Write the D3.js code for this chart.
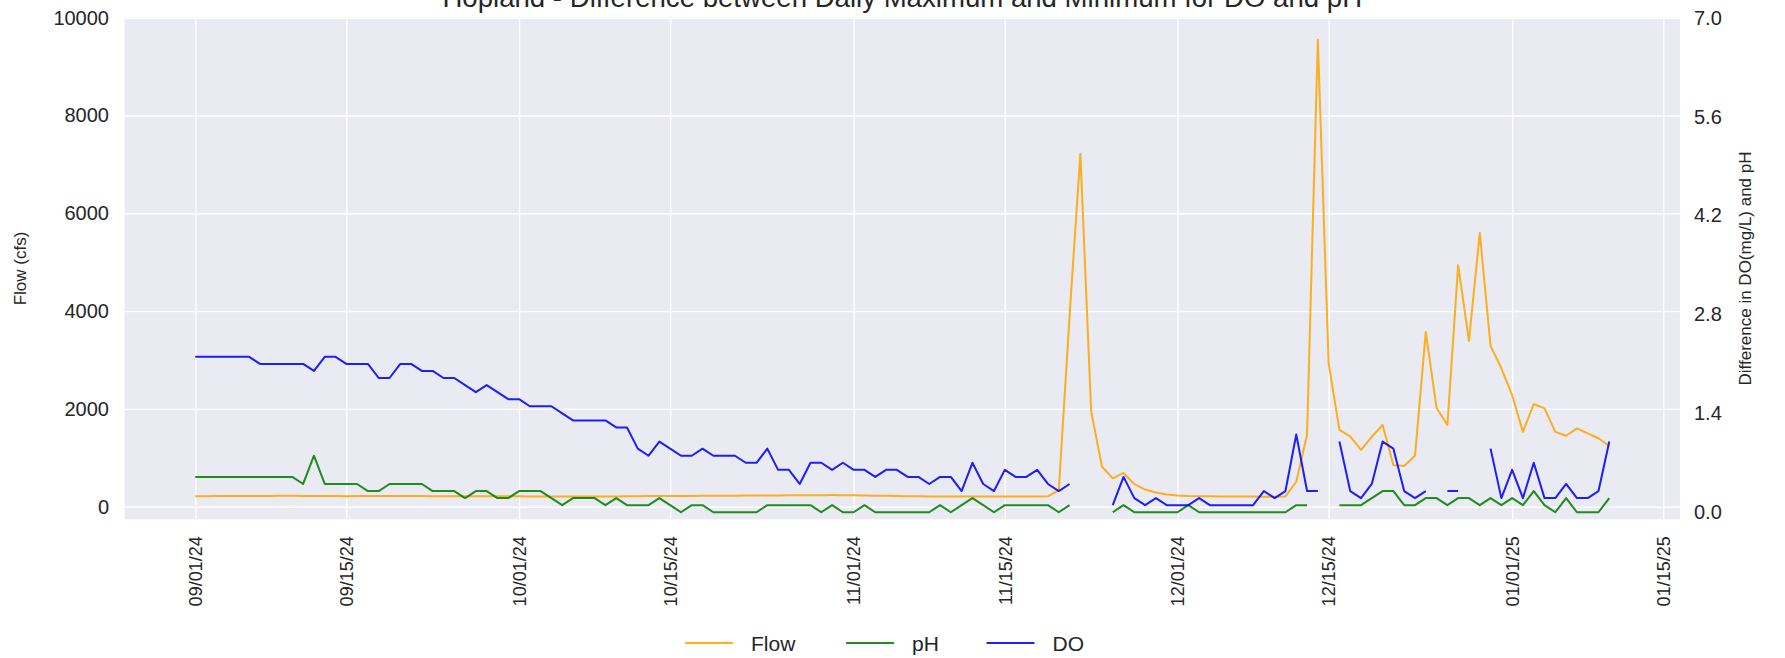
<!DOCTYPE html>
<html>
<head>
<meta charset="utf-8">
<script src="https://cdn.jsdelivr.net/npm/d3@7"></script>
<style>
  body { margin: 0; background: #ffffff; }
  text { font-family: "Liberation Sans", Arial, sans-serif; fill: #262626; }
</style>
</head>
<body>
<script>
let width = 1785;
let height = 658;
let plotLeft = 124.5;
let plotRight = 1680;
let plotTop = 17.7;
let plotBottom = 519.3;

const firstDay = '2024-09-01'

// daily flow (cfs), left axis
const flow = [215,214,216,218,217,219,220,221,222,226,221,218,217,216,215,216,217,218,219,218,
  217,216,215,214,214,213,213,212,212,211,211,210,210,210,209,209,208,208,209,210,
  212,214,216,218,219,220,221,222,224,225,226,228,229,230,231,232,233,234,236,238,
  236,233,230,226,222,218,214,212,210,209,208,208,207,207,206,206,207,208,210,212,
  340,3900,7220,1950,820,580,690,460,350,290,250,230,220,215,212,210,208,207,206,205,
  205,210,510,1470,9550,2930,1570,1440,1160,1430,1670,850,830,1040,3570,2020,1670,4940,3390,5600,
  3290,2830,2280,1530,2100,2010,1530,1450,1600,1500,1400,1240]

// daily max - min for pH, right axis
const ph = [0.5,0.5,0.5,0.5,0.5,0.5,0.5,0.5,0.5,0.5,0.4,0.8,0.4,0.4,0.4,0.4,0.3,0.3,0.4,0.4,
  0.4,0.4,0.3,0.3,0.3,0.2,0.3,0.3,0.2,0.2,0.3,0.3,0.3,0.2,0.1,0.2,0.2,0.2,0.1,0.2,
  0.1,0.1,0.1,0.2,0.1,0.0,0.1,0.1,0.0,0.0,0.0,0.0,0.0,0.1,0.1,0.1,0.1,0.1,0.0,0.1,
  0.0,0.0,0.1,0.0,0.0,0.0,0.0,0.0,0.0,0.1,0.0,0.1,0.2,0.1,0.0,0.1,0.1,0.1,0.1,0.1,
  0.0,0.1,null,null,null,0.0,0.1,0.0,0.0,0.0,0.0,0.0,0.1,0.0,0.0,0.0,0.0,0.0,0.0,0.0,
  0.0,0.0,0.1,0.1,null,null,0.1,0.1,0.1,0.2,0.3,0.3,0.1,0.1,0.2,0.2,0.1,0.2,0.2,0.1,
  0.2,0.1,0.2,0.1,0.3,0.1,0.0,0.2,0.0,0.0,0.0,0.2]

// daily max - min for DO (mg/L), right axis
const dissolvedOxygen = [2.2,2.2,2.2,2.2,2.2,2.2,2.1,2.1,2.1,2.1,2.1,2.0,2.2,2.2,2.1,2.1,2.1,1.9,1.9,2.1,
  2.1,2.0,2.0,1.9,1.9,1.8,1.7,1.8,1.7,1.6,1.6,1.5,1.5,1.5,1.4,1.3,1.3,1.3,1.3,1.2,
  1.2,0.9,0.8,1.0,0.9,0.8,0.8,0.9,0.8,0.8,0.8,0.7,0.7,0.9,0.6,0.6,0.4,0.7,0.7,0.6,
  0.7,0.6,0.6,0.5,0.6,0.6,0.5,0.5,0.4,0.5,0.5,0.3,0.7,0.4,0.3,0.6,0.5,0.5,0.6,0.4,
  0.3,0.4,null,null,null,0.1,0.5,0.2,0.1,0.2,0.1,0.1,0.1,0.2,0.1,0.1,0.1,0.1,0.1,0.3,
  0.2,0.3,1.1,0.3,0.3,null,1.0,0.3,0.2,0.4,1.0,0.9,0.3,0.2,0.3,null,0.3,0.3,null,null,
  0.9,0.2,0.6,0.2,0.7,0.2,0.2,0.4,0.2,0.2,0.3,1.0]

const flowTicks = [0,2000,4000,6000,8000,10000]
const diffTicks = [0.0,1.4,2.8,4.2,5.6,7.0]
const dateTicks = ['2024-09-01','2024-09-15','2024-10-01','2024-10-15','2024-11-01',
  '2024-11-15','2024-12-01','2024-12-15','2025-01-01','2025-01-15']

const seriesNames = ['Flow','pH','DO']
const seriesColors = ['orange','green','blue']

const parseDay = d3.timeParse('%Y-%m-%d')
const start = parseDay(firstDay)
const days = flow.map((v,i) => d3.timeDay.offset(start, i))

const svg = d3.select('body').append('svg')
  .attr('width', width).attr('height', height)

// matplotlib style 5% margin on the date axis
let spanMs = days[days.length-1] - days[0]
let xScale = d3.scaleTime()
  .domain([new Date(+days[0] - spanMs*0.05), new Date(+days[days.length-1] + spanMs*0.05)])
  .range([plotLeft, plotRight])

let yFlow = d3.scaleLinear().domain([-258, 10000]).range([plotBottom, plotTop])
let yDiff = d3.scaleLinear().domain([-0.1, 7.0]).range([plotBottom, plotTop])

svg.append('rect')
  .attr('x', plotLeft).attr('y', plotTop)
  .attr('width', plotRight - plotLeft).attr('height', plotBottom - plotTop)
  .attr('fill', '#eaeaf2')

// grid
svg.append('g')
  .attr('transform', `translate(${plotLeft},0)`)
  .call(d3.axisLeft(yFlow).tickValues(flowTicks).tickSize(-(plotRight - plotLeft)).tickFormat(''))
  .call(g => g.select('.domain').remove())
  .selectAll('line').attr('stroke', '#ffffff').attr('stroke-width', 1.4)

svg.append('g')
  .attr('transform', `translate(0,${plotBottom})`)
  .call(d3.axisBottom(xScale).tickValues(dateTicks.map(parseDay)).tickSize(-(plotBottom - plotTop)).tickFormat(''))
  .call(g => g.select('.domain').remove())
  .selectAll('line').attr('stroke', '#ffffff').attr('stroke-width', 1.4)

// lines
const clip = svg.append('clipPath').attr('id','plotclip')
  .append('rect').attr('x', plotLeft).attr('y', plotTop)
  .attr('width', plotRight - plotLeft).attr('height', plotBottom - plotTop)

const seriesValues = [flow, ph, dissolvedOxygen]
const seriesScales = [yFlow, yDiff, yDiff]

seriesValues.forEach((values, k) => {
  let lineGen = d3.line()
    .defined((d,i) => values[i] !== null)
    .x((d,i) => xScale(days[i]))
    .y((d,i) => seriesScales[k](values[i]))
  svg.append('path')
    .datum(values)
    .attr('clip-path', 'url(#plotclip)')
    .attr('d', lineGen)
    .attr('fill', 'none')
    .attr('stroke', seriesColors[k])
    .attr('stroke-opacity', 0.88)
    .attr('stroke-width', 2)
    .attr('stroke-linejoin', 'round')
})

// axes labels
svg.append('g')
  .attr('transform', `translate(${plotLeft},0)`)
  .call(d3.axisLeft(yFlow).tickValues(flowTicks).tickSize(0).tickPadding(15.5).tickFormat(d3.format('d')))
  .call(g => g.select('.domain').remove())
  .selectAll('text').style('font-size','20px').attr('fill','#262626')

svg.append('g')
  .attr('transform', `translate(${plotRight},0)`)
  .call(d3.axisRight(yDiff).tickValues(diffTicks).tickSize(0).tickPadding(14).tickFormat(d3.format('.1f')))
  .call(g => g.select('.domain').remove())
  .selectAll('text').style('font-size','20px').attr('fill','#262626')

svg.append('g')
  .attr('transform', `translate(0,${plotBottom})`)
  .call(d3.axisBottom(xScale).tickValues(dateTicks.map(parseDay)).tickSize(0).tickFormat(d3.timeFormat('%m/%d/%y')))
  .call(g => g.select('.domain').remove())
  .selectAll('text')
  .style('font-size','18px')
  .attr('fill','#262626')
  .attr('transform','rotate(-90)')
  .attr('text-anchor','end')
  .attr('x', -17)
  .attr('y', 0)
  .attr('dy','0.35em')

svg.append('text')
  .text('Flow (cfs)')
  .attr('transform', `translate(20.5,${(plotTop+plotBottom)/2}) rotate(-90)`)
  .attr('text-anchor','middle')
  .attr('dominant-baseline','central')
  .style('font-size','17px')

svg.append('text')
  .text('Difference in DO(mg/L) and pH')
  .attr('transform', `translate(1745,${(plotTop+plotBottom)/2}) rotate(-90)`)
  .attr('text-anchor','middle')
  .attr('dominant-baseline','central')
  .style('font-size','17px')

// title sits partly above the top edge, as in the original figure
svg.append('text')
  .text('Hopland - Difference between Daily Maximum and Minimum for DO and pH')
  .attr('x', (plotLeft+plotRight)/2)
  .attr('y', 7)
  .attr('text-anchor','middle')
  .style('font-size','27.6px')

// legend
const legendX = [685, 846, 986.5]
const legend = svg.append('g').attr('transform','translate(0,643)')
seriesNames.forEach((name, k) => {
  legend.append('line')
    .attr('x1', legendX[k]).attr('x2', legendX[k] + 48)
    .attr('y1', 0).attr('y2', 0)
    .attr('stroke', seriesColors[k]).attr('stroke-opacity', 0.88).attr('stroke-width', 2)
  legend.append('text')
    .text(name)
    .attr('x', legendX[k] + 66)
    .attr('y', 0)
    .attr('dominant-baseline','central')
    .style('font-size','21px')
})
</script>
</body>
</html>
